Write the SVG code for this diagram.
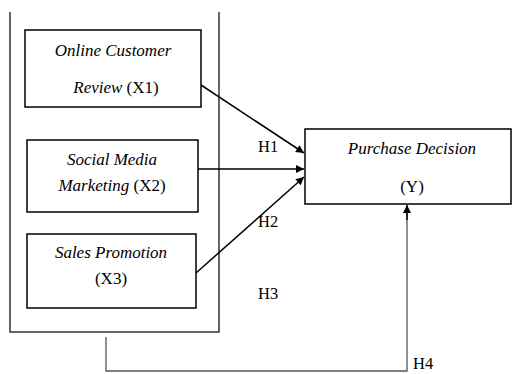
<svg xmlns="http://www.w3.org/2000/svg" width="514" height="374" viewBox="0 0 514 374">
  <defs>
    <marker id="arrowBig" viewBox="0 0 10 10" refX="10" refY="5" markerWidth="10" markerHeight="8" orient="auto" markerUnits="userSpaceOnUse">
      <path d="M0,0 L10,5 L0,10 z" fill="#000"/>
    </marker>
  </defs>
  <style>
    .box { fill: #fff; stroke: #000; stroke-width: 1.5; }
    .frame { fill: none; stroke: #333; stroke-width: 1.5; }
    .edge { fill: none; stroke: #000; stroke-width: 1.5; }
    .grey { fill: none; stroke: #555; stroke-width: 1.3; }
    text { font-family: "Liberation Serif", "Times New Roman", serif; font-size: 17px; fill: #000; text-anchor: middle; }
    .it { font-style: italic; }
    .lbl { text-anchor: start; font-size: 16.5px; }
  </style>
  <rect width="514" height="374" fill="#fff"/>

  <!-- open frame round the independent variables -->
  <path class="frame" d="M10,12 V332 H219 V12"/>

  <g id="connectors">
    <line class="edge" x1="201" y1="85" x2="304" y2="153" marker-end="url(#arrowBig)"/>
    <line class="edge" x1="198" y1="169" x2="304" y2="169" marker-end="url(#arrowBig)"/>
    <line class="edge" x1="196" y1="273" x2="304" y2="177" marker-end="url(#arrowBig)"/>
    <path class="grey" d="M106,337 V371 H407 V206"/>
    <line class="edge" x1="407" y1="220" x2="407" y2="205" marker-end="url(#arrowBig)"/>
    <text class="lbl" x="258" y="152">H1</text>
    <text class="lbl" x="258" y="227">H2</text>
    <text class="lbl" x="258" y="299">H3</text>
    <text class="lbl" x="413" y="369">H4</text>
  </g>

  <g id="x1">
    <rect class="box" x="25" y="30" width="176" height="77"/>
    <text class="it" x="113" y="56">Online Customer</text>
    <text x="116" y="93"><tspan class="it">Review</tspan> (X1)</text>
  </g>

  <g id="x2">
    <rect class="box" x="27" y="140" width="171" height="72"/>
    <text class="it" x="112" y="165">Social Media</text>
    <text x="112" y="191"><tspan class="it">Marketing</tspan> (X2)</text>
  </g>

  <g id="x3">
    <rect class="box" x="27" y="234" width="169" height="74"/>
    <text class="it" x="111" y="258">Sales Promotion</text>
    <text x="111" y="284">(X3)</text>
  </g>

  <g id="y">
    <rect class="box" x="305" y="129" width="206" height="75"/>
    <text class="it" x="412" y="154">Purchase Decision</text>
    <text x="412" y="192">(Y)</text>
  </g>
</svg>
